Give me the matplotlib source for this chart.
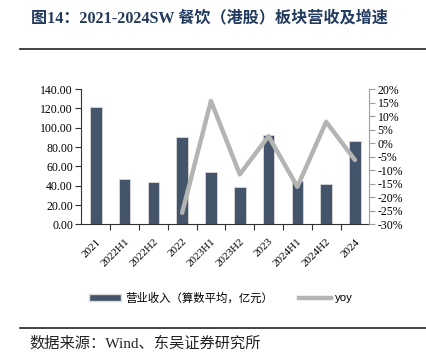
import matplotlib
matplotlib.use('Agg')
import matplotlib.pyplot as plt
from matplotlib.ticker import FixedLocator, FuncFormatter
from matplotlib.patches import Patch
from matplotlib.lines import Line2D

categories = ['2021', '2022H1', '2022H2', '2022', '2023H1', '2023H2',
              '2023', '2024H1', '2024H2', '2024']
revenue = [121.0, 46.5, 43.4, 90.0, 53.8, 38.3, 92.0, 44.8, 41.4, 86.2]
yoy = [None, None, None, -25.7, 15.6, -11.5, 2.6, -16.1, 7.9, -6.2]

serif = ['Liberation Serif', 'Noto Sans CJK SC']
cjk = ['Noto Sans CJK SC', 'DejaVu Sans']
plt.rcParams['font.family'] = serif

fig = plt.figure(figsize=(4.26, 3.62), dpi=100)
ax = fig.add_axes([0.191, 0.380, 0.676, 0.374])
ax2 = ax.twinx()

x = list(range(len(categories)))
bar_color = '#44546A'
line_color = '#B4B4B4'
ax.bar(x, revenue, width=0.4, color=bar_color, edgecolor='#D9D9D9', linewidth=0.6, zorder=2)

yx = [i for i, v in zip(x, yoy) if v is not None]
yv = [v for v in yoy if v is not None]
ax2.plot(yx, yv, color=line_color, linewidth=3.2, solid_capstyle='round', zorder=3)

ax.set_xlim(-0.5, len(categories) - 0.5)
ax.set_ylim(0, 140)
ax.set_yticks(range(0, 141, 20))
ax.yaxis.set_major_formatter(FuncFormatter(lambda v, p: f'{v:.2f}'))
ax2.set_ylim(-30, 20)
ax2.set_yticks(range(-30, 21, 5))
ax2.yaxis.set_major_formatter(FuncFormatter(lambda v, p: f'{int(v)}%'))

ax.set_xticks(x)
ax.set_xticklabels(categories, rotation=45, ha='right', rotation_mode='anchor')
ax.tick_params(axis='x', which='major', length=0, pad=9, labelsize=8)
ax.xaxis.set_minor_locator(FixedLocator([i + 0.5 for i in x[:-1]]))
ax.tick_params(axis='x', which='minor', length=4, color='#333333', width=0.8)
ax.tick_params(axis='y', labelsize=8.5, length=4, color='#333333', width=0.8, pad=2)
ax2.tick_params(axis='y', labelsize=8.5, length=4, color='#A0A0A0', width=0.8, pad=2)

for a in (ax, ax2):
    a.spines['top'].set_visible(False)
ax.spines['right'].set_visible(False)
ax.spines['left'].set_color('#333333')
ax.spines['bottom'].set_color('#333333')
ax2.spines['left'].set_visible(False)
ax2.spines['bottom'].set_visible(False)
ax2.spines['right'].set_color('#A0A0A0')

handles = [Patch(facecolor=bar_color, edgecolor='#D9D9D9'),
           Line2D([0], [0], color=line_color, linewidth=3.2)]
leg = fig.legend(handles, ['营业收入（算数平均，亿元）', 'yoy'], loc='center',
                 bbox_to_anchor=(0.519, 0.178), ncol=2, frameon=False,
                 handlelength=2.8, handleheight=0.55, columnspacing=2.2,
                 handletextpad=0.4, prop={'family': cjk, 'size': 8.2})
leg.get_texts()[1].set_family(['Liberation Sans'])

fig.text(0.073, 0.948, '图14：2021-2024SW 餐饮（港股）板块营收及增速',
         fontsize=11.6, fontweight='bold', color='#223A5E', family=serif,
         va='center', ha='left')
fig.add_artist(Line2D([0.047, 1.0], [0.865, 0.865], color='#222222', linewidth=1.2))
fig.add_artist(Line2D([0.047, 1.0], [0.095, 0.095], color='#222222', linewidth=1.2))
fig.text(0.070, 0.052, '数据来源：Wind、东吴证券研究所', fontsize=11,
         family=serif, color='#222222', va='center', ha='left')

plt.savefig('out.png', dpi=100)
